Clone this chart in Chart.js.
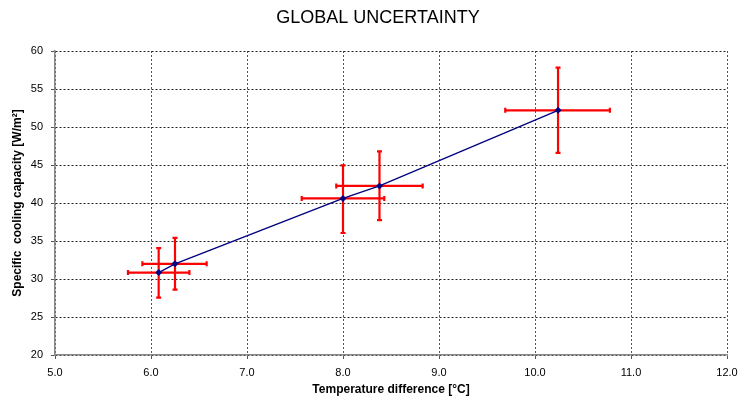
<!DOCTYPE html>
<html>
<head>
<meta charset="utf-8">
<script src="https://cdn.jsdelivr.net/npm/chart.js@4/dist/chart.umd.min.js"></script>
<style>
  html, body { margin: 0; padding: 0; background: #fff; }
  #wrap { width: 741px; height: 403px; }
</style>
</head>
<body>
<div id="wrap"><canvas id="c" width="741" height="403"></canvas></div>
<script>
// ---- Data ----
const titleText = 'GLOBAL UNCERTAINTY';
const xTitle = 'Temperature difference [°C]';
const yTitle = 'Specific  cooling capacity [W/m²]';

const tempDiff   = [6.08, 6.25, 8.00, 8.38, 10.24];
const coolingCap = [30.85, 32.0, 40.6, 42.25, 52.2];

const tempLow   = [5.76, 5.91, 7.57, 7.93, 9.69];
const tempHigh  = [6.40, 6.58, 8.43, 8.83, 10.78];
const coolLow   = [27.55, 28.6, 36.05, 37.75, 46.6];
const coolHigh  = [34.05, 35.4, 44.95, 46.8, 57.8];

const xTickMin = 5, xTickMax = 12, xTickStep = 1;
const yTickMin = 20, yTickMax = 60, yTickStep = 5;

const points = tempDiff.map((x, i) => ({ x: x, y: coolingCap[i] }));

// Error bar plugin: uses the chart's own scales
const errorBars = {
  id: 'errorBars',
  beforeDatasetsDraw(chart) {
    const { ctx, scales: { x, y } } = chart;
    ctx.save();
    ctx.strokeStyle = '#ff0000';
    ctx.lineWidth = 2.2;
    ctx.lineCap = 'butt';
    const cap = 2.5;
    for (let i = 0; i < tempDiff.length; i++) {
      const px = x.getPixelForValue(tempDiff[i]);
      const py = y.getPixelForValue(coolingCap[i]);
      const xl = x.getPixelForValue(tempLow[i]);
      const xh = x.getPixelForValue(tempHigh[i]);
      const yl = y.getPixelForValue(coolLow[i]);
      const yh = y.getPixelForValue(coolHigh[i]);
      ctx.beginPath();
      ctx.moveTo(xl, py); ctx.lineTo(xh, py);
      ctx.moveTo(xl, py - cap); ctx.lineTo(xl, py + cap);
      ctx.moveTo(xh, py - cap); ctx.lineTo(xh, py + cap);
      ctx.moveTo(px, yl); ctx.lineTo(px, yh);
      ctx.moveTo(px - cap, yl); ctx.lineTo(px + cap, yl);
      ctx.moveTo(px - cap, yh); ctx.lineTo(px + cap, yh);
      ctx.stroke();
    }
    ctx.restore();
  }
};

const FONT = "'Liberation Sans', Arial, sans-serif";

new Chart(document.getElementById('c'), {
  type: 'scatter',
  data: {
    datasets: [{
      data: points,
      showLine: true,
      borderColor: '#000080',
      borderWidth: 1.4,
      backgroundColor: '#000080',
      pointStyle: 'rectRot',
      pointRadius: 3.5,
      pointBorderWidth: 0,
      pointBackgroundColor: '#000080'
    }]
  },
  options: {
    responsive: false,
    animation: false,
    devicePixelRatio: 1,
    layout: { padding: { left: 29, right: 14, top: 0, bottom: 0 } },
    plugins: {
      legend: { display: false },
      tooltip: { enabled: false },
      title: {
        display: true,
        text: titleText,
        color: '#000',
        font: { family: FONT, size: 18, weight: 'normal', lineHeight: 1.2 },
        padding: { top: 7, bottom: 22.4 }
      }
    },
    scales: {
      x: {
        type: 'linear',
        min: xTickMin, max: xTickMax,
        afterFit(s) { s.height = 48; s.paddingRight = 0; s.paddingLeft = 0; },
        ticks: {
          stepSize: xTickStep,
          color: '#000',
          font: { family: FONT, size: 11 },
          padding: 7,
          maxRotation: 0,
          callback: v => Number(v).toFixed(1)
        },
        grid: {
          color: '#555',
          lineWidth: 1,
          tickLength: 4,
          tickColor: '#555'
        },
        border: { display: true, color: '#888', width: 1.5, dash: [2, 2] },
        title: {
          display: true,
          text: xTitle,
          color: '#000',
          font: { family: FONT, size: 12, weight: 'bold', lineHeight: 1.2 },
          padding: { top: 0, bottom: 6 }
        }
      },
      y: {
        type: 'linear',
        min: yTickMin, max: yTickMax,
        afterFit(s) { s.width = 26; },
        ticks: {
          stepSize: yTickStep,
          color: '#000',
          font: { family: FONT, size: 11 },
          padding: 8
        },
        grid: {
          color: '#222',
          lineWidth: 1,
          tickLength: 4,
          tickColor: '#555'
        },
        border: { display: true, color: '#888', width: 1.5, dash: [2, 2] },
        title: {
          display: true,
          text: yTitle,
          color: '#000',
          font: { family: FONT, size: 12, weight: 'bold', lineHeight: 1.2 },
          padding: { top: -18.2, bottom: 0 }
        }
      }
    }
  },
  plugins: [errorBars]
});
</script>
</body>
</html>
